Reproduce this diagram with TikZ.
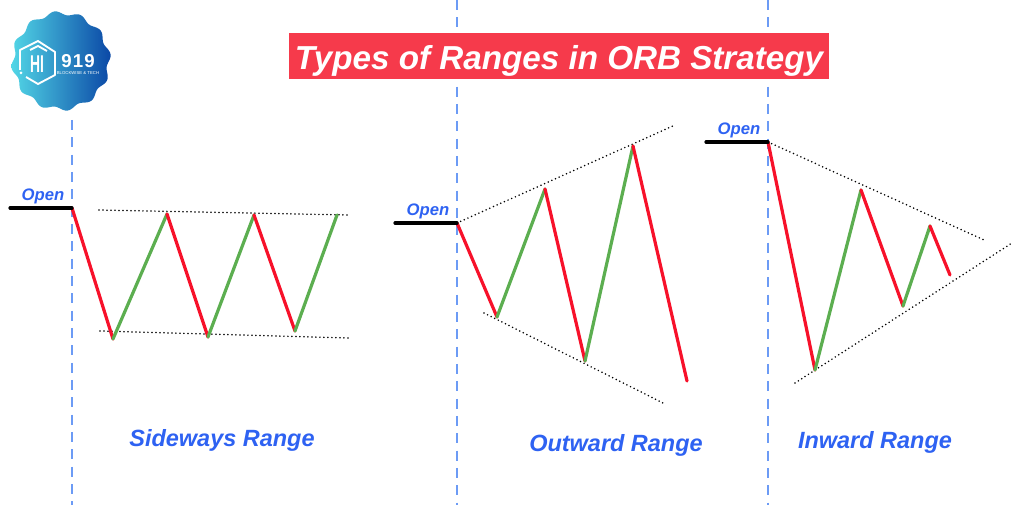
\documentclass[tikz,border=0pt]{standalone}
\usepackage{fontspec}
\setmainfont{Liberation Sans}
\usepackage{xcolor}
\usetikzlibrary{calc,positioning}
\definecolor{guideblue}{HTML}{6C9BF5}
\definecolor{labelblue}{HTML}{2E62F2}
\definecolor{titlered}{HTML}{F63A4B}
\definecolor{downred}{HTML}{F7112A}
\definecolor{upgreen}{HTML}{5CAE50}
\definecolor{logolight}{HTML}{52D6E6}
\definecolor{logodark}{HTML}{0B48A6}
\tikzset{
  guide/.style={guideblue,line width=0.8pt,dash pattern=on 7.5pt off 5.5pt},
  openbar/.style={black,line width=2.4pt,line cap=round},
  down/.style={downred,line width=2.4pt,line cap=round},
  up/.style={upgreen,line width=2.4pt,line cap=round},
  bound/.style={black,line width=1.3pt,line cap=round,dash pattern=on 0pt off 3pt},
  openlabel/.style={labelblue,font=\fontsize{12.5}{12.5}\selectfont\bfseries\itshape},
  rangelabel/.style={labelblue,font=\fontsize{17.6}{17.6}\selectfont\bfseries\itshape},
  logoline/.style={white,line width=1.4pt,line join=round},
}
\begin{document}
\begin{tikzpicture}[x=0.75pt,y=-0.75pt]
  \useasboundingbox (0,0) rectangle (1024,505);
  % dashed guides
  \foreach \u \v \z in {72/120/a,457/0/b,768/0/c} {
    \coordinate (top\z) at (\u,\v);
    \coordinate (bot\z) at (\u,505);
    \draw[guide](top\z)--(bot\z);
  }
  % title
  \node[fill=titlered,text=white,minimum width=405pt,minimum height=34.5pt,inner sep=0pt,font=\fontsize{24.9}{24.9}\selectfont\bfseries\itshape] (title) at (559,56) {\raisebox{0pt}[21pt][0pt]{Types of Ranges in ORB Strategy}};
  % logo
  \shade[left color=logolight,right color=logodark] plot[domain=0:360,samples=145,smooth] ({61+(48+2*cos(12*\x+90))*cos(\x)},{61+(48+2*cos(12*\x+90))*sin(\x)});
  \draw[logoline] (20,70)--(20,50)--(38,41)--(55,52)--(55,75)--(38,84)--(26,77);
  \draw[logoline] (30,50)--(38,46)--(47,51);
  \fill[white] (21,73) circle (1.5);
  \node[white,font=\fontsize{13}{13}\selectfont\bfseries,inner sep=0pt] (logoh) at (37,64) {\scalebox{0.8}[1.4]{HI}};
  \node[white,font=\fontsize{14}{14}\selectfont\bfseries\addfontfeature{LetterSpace=6},inner sep=0pt] (logonum) at (78,61.5) {919};
  \node[white,font=\fontsize{3.2}{3.2}\selectfont,inner sep=0pt] (logosub) at (78,73) {BLOCKWISE \& TECH};
  % sideways
  \foreach \u \v \z in {72/208/s0,113/339/s1,167/214/s2,208/337/s3,254/215/s4,295/331/s5,337/215/s6}
    \coordinate (\z) at (\u,\v);
  \coordinate (sopen) at (10,208);
  \coordinate (sa) at (99,210);
  \coordinate (sb) at (348,215);
  \coordinate (sc) at (100,331);
  \coordinate (sd) at (348,338);
  \draw[bound](sa)--(sb);
  \draw[bound](sc)--(sd);
  \foreach \u \v \z in {s0/s1/down,s1/s2/up,s2/s3/down,s3/s4/up,s4/s5/down,s5/s6/up}
    \draw[\z](\u)--(\v);
  \draw[openbar](sopen)--(s0);
  \node[openlabel] (sopenlabel) at (43,196) {Open};
  \node[rangelabel] (sname) at (222,440) {Sideways Range};
  % outward
  \foreach \u \v \z in {457/223/o0,497/317/o1,545/189/o2,585/361/o3,633/146/o4,687/381/o5}
    \coordinate (\z) at (\u,\v);
  \coordinate (oopen) at (395,223);
  \coordinate (oa) at (675,125);
  \coordinate (ob) at (484,313);
  \coordinate (oc) at (665,404);
  \draw[bound](o0)--(oa);
  \draw[bound](ob)--(oc);
  \foreach \u \v \z in {o0/o1/down,o1/o2/up,o2/o3/down,o3/o4/up,o4/o5/down}
    \draw[\z](\u)--(\v);
  \draw[openbar](oopen)--(o0);
  \node[openlabel] (oopenlabel) at (428,211) {Open};
  \node[rangelabel] (oname) at (616,445) {Outward Range};
  % inward
  \foreach \u \v \z in {768/142/i0,815/370/i1,861/190/i2,903/306/i3,930/226/i4,950/275/i5}
    \coordinate (\z) at (\u,\v);
  \coordinate (iopen) at (706,142);
  \coordinate (ia) at (984,240);
  \coordinate (ib) at (795,383);
  \coordinate (ic) at (1012,243);
  \draw[bound](i0)--(ia);
  \draw[bound](ib)--(ic);
  \foreach \u \v \z in {i0/i1/down,i1/i2/up,i2/i3/down,i3/i4/up,i4/i5/down}
    \draw[\z](\u)--(\v);
  \draw[openbar](iopen)--(i0);
  \node[openlabel] (iopenlabel) at (739,130) {Open};
  \node[rangelabel] (iname) at (875,442) {Inward Range};
\end{tikzpicture}
\end{document}
